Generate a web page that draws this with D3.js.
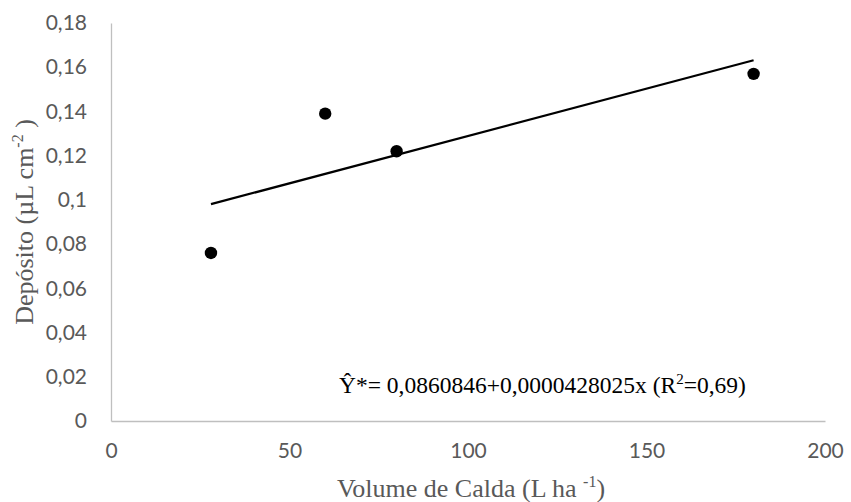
<!DOCTYPE html>
<html><head><meta charset="utf-8">
<script src="https://cdn.jsdelivr.net/npm/d3@7"></script>
<style>body{margin:0;background:#fff}</style>
</head><body>
<svg id="c" width="851" height="502"></svg>
<script>
const volumes = [28, 60, 80, 180];
const deposits = [0.076, 0.139, 0.122, 0.157];
const xTicks = [0, 50, 100, 150, 200];
const yTicks = [0, 0.02, 0.04, 0.06, 0.08, 0.1, 0.12, 0.14, 0.16, 0.18];
// fitted trend line (plotted line uses slope 0.000428025)
const intercept = 0.0860846, slope = 0.000428025;
const trendX = [28, 180];

const svg = d3.select("#c");
const x = d3.scaleLinear().domain([0, 200]).range([111, 825]);
const y = d3.scaleLinear().domain([0, 0.18]).range([421, 23]);
const fmt = v => String(v).replace(".", ",");
const sans = "Lato, 'Open Sans', sans-serif";

const xAxis = d3.axisBottom(x).tickValues(xTicks).tickSize(0).tickPadding(22).tickFormat(fmt);
const gx = svg.append("g").attr("transform", `translate(0,${y(0)})`).call(xAxis);
gx.select(".domain").attr("stroke", "#bfbfbf").attr("stroke-width", 1.3);
gx.selectAll("text").attr("fill", "#595959").attr("font-family", sans).attr("font-size", 21);

const yAxis = d3.axisLeft(y).tickValues(yTicks).tickSize(0).tickPadding(24).tickFormat(fmt);
const gy = svg.append("g").attr("transform", `translate(${x(0)},0)`).call(yAxis);
gy.select(".domain").attr("stroke", "#bfbfbf").attr("stroke-width", 1.3);
gy.selectAll("text").attr("fill", "#595959").attr("font-family", sans).attr("font-size", 21);

svg.append("line")
  .attr("x1", x(trendX[0])).attr("y1", y(intercept + slope * trendX[0]))
  .attr("x2", x(trendX[1])).attr("y2", y(intercept + slope * trendX[1]))
  .attr("stroke", "#000").attr("stroke-width", 2.2);

svg.selectAll("circle.pt").data(volumes).enter().append("circle")
  .attr("class", "pt")
  .attr("cx", d => x(d)).attr("cy", (d, i) => y(deposits[i]))
  .attr("r", 6.2).attr("fill", "#000");

const serif = "'Liberation Serif', 'Times New Roman', serif";
const eq = svg.append("text").attr("x", 339).attr("y", 393)
  .attr("font-family", serif).attr("font-size", 23.5).attr("fill", "#000");
eq.append("tspan").text("Ŷ*= 0,0860846+0,0000428025x (R");
eq.append("tspan").attr("font-size", 15).attr("dy", -9).text("2");
eq.append("tspan").attr("dy", 9).text("=0,69)");

const xt = svg.append("text").attr("x", 471).attr("y", 497).attr("text-anchor", "middle")
  .attr("font-family", serif).attr("font-size", 26).attr("fill", "#595959");
xt.append("tspan").text("Volume de Calda (L ha ");
xt.append("tspan").attr("font-size", 16).attr("dy", -10).text("-1");
xt.append("tspan").attr("dy", 10).text(")");

const yt = svg.append("text").attr("transform", "translate(33,222) rotate(-90)").attr("text-anchor", "middle")
  .attr("font-family", serif).attr("font-size", 26).attr("fill", "#595959");
yt.append("tspan").text("Depósito (µL cm");
yt.append("tspan").attr("font-size", 16).attr("dy", -10).text("-2");
yt.append("tspan").attr("dy", 10).text(" )");
</script>
</body></html>
